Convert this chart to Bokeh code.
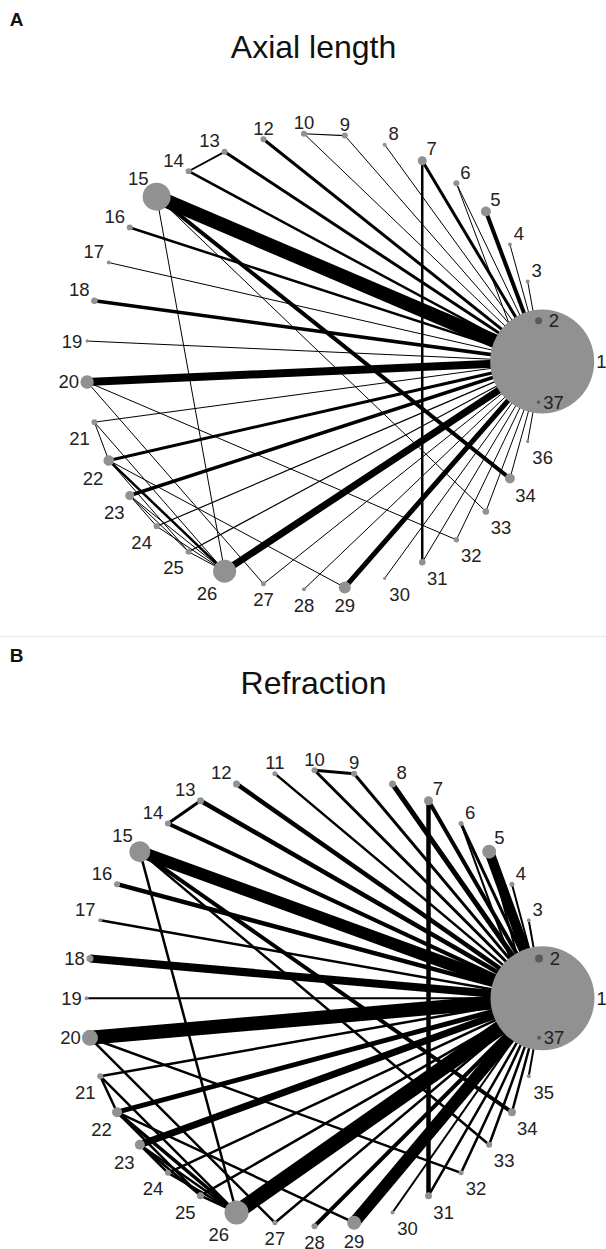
import math
from bokeh.plotting import figure
from bokeh.models import Range1d
from bokeh.embed import file_html
from bokeh.resources import INLINE
from bokeh.core.properties import value

# ---------------- data ----------------
panel_tags = ["A", "B"]
titles = ["Axial length", "Refraction"]

# Panel A: treatments present and node sizes (radius)
nodes_a = [1, 2, 3, 4, 5, 6, 7, 8, 9, 10, 12, 13, 14, 15, 16, 17, 18, 19, 20,
           21, 22, 23, 24, 25, 26, 27, 28, 29, 30, 31, 32, 33, 34, 36, 37]
size_a = [52, 3.5, 2, 2, 5, 3, 4.5, 2, 3, 3, 3, 3, 3, 14, 3, 2, 3.3, 1.7, 6.7,
          3, 5.3, 4.5, 3, 3, 11.5, 2.5, 2, 6, 1.7, 3.3, 2.7, 3.3, 5, 1.7, 1.7]
edge_a_from = [1, 1, 1, 1, 1, 1, 1, 1, 1, 1, 1, 1, 1, 1, 1, 1, 1, 1, 1, 1, 1, 1,
               1, 1, 1, 1, 1, 1, 1, 1, 1, 1,
               9, 13, 7, 15, 15, 15, 6, 20, 20, 21, 22, 21, 22, 22, 23, 23, 23, 25, 24]
edge_a_to = [3, 4, 5, 6, 7, 8, 9, 10, 12, 13, 14, 15, 16, 17, 18, 19, 20, 21, 22, 23,
             24, 25, 26, 27, 28, 29, 30, 31, 32, 33, 34, 36,
             10, 14, 31, 26, 34, 33, 37, 27, 32, 26, 29, 22, 26, 25, 26, 25, 24, 26, 26]
edge_a_w = [1, 1, 4, 1, 3, 1, 1, 1, 3, 3, 2.5, 14, 2.5, 1, 3.5, 1, 8, 1, 3, 3.5,
            1.2, 1.2, 7, 1, 1, 5, 1, 1, 1, 1, 1, 1,
            1.2, 1.8, 2.5, 1, 4, 1, 1, 1, 1, 1, 1, 1, 2.5, 1, 1, 1, 1, 1, 1]

# Panel B
nodes_b = [1, 2, 3, 4, 5, 6, 7, 8, 9, 10, 11, 12, 13, 14, 15, 16, 17, 18, 19, 20,
           21, 22, 23, 24, 25, 26, 27, 28, 29, 30, 31, 32, 33, 34, 35, 37]
size_b = [52, 4, 2, 2.5, 7, 2.5, 4.5, 3.5, 3, 3, 2.5, 3.5, 3.5, 3, 10.5, 3, 2, 3.5,
          2, 8, 3, 5, 5, 3, 3.5, 12, 2.5, 3, 7, 2, 3.5, 2.5, 3, 4, 2, 2]
edge_b_from = [1, 1, 1, 1, 1, 1, 1, 1, 1, 1, 1, 1, 1, 1, 1, 1, 1, 1, 1, 1, 1, 1,
               1, 1, 1, 1, 1, 1, 1, 1, 1, 1, 1,
               9, 13, 7, 15, 15, 15, 6, 20, 20, 21, 22, 21, 22, 22, 23, 23, 23, 25, 24, 5]
edge_b_to = [3, 4, 5, 6, 7, 8, 9, 10, 11, 12, 13, 14, 15, 16, 17, 18, 19, 20, 21, 22,
             23, 24, 25, 26, 27, 28, 29, 30, 31, 32, 33, 34, 35,
             10, 14, 31, 26, 34, 33, 37, 27, 32, 26, 29, 22, 26, 25, 26, 25, 24, 26, 26, 37]
edge_b_w = [2, 2, 10, 3, 4, 5, 3, 3, 2.5, 4.5, 4.5, 4, 12, 4.5, 2.5, 8, 2, 14, 2.5,
            5, 7, 2.5, 2.5, 15, 2.5, 4, 12, 2, 2.5, 2.5, 2.5, 2.5, 2,
            3, 3, 4.5, 2.5, 4, 2.5, 2, 2.5, 2.5, 2.5, 2.5, 2.5, 3.5, 2.5, 2.5, 2.5, 2.5,
            2.5, 2.5, 2]

# ---------------- layout (page pixel coordinates) ----------------
W, H = 606, 1249
panels = [
    dict(nodes=nodes_a, size=size_a, ef=edge_a_from, et=edge_a_to, ew=edge_a_w,
         cx=313.7, cy=361.0, R=228.0, tag_y=19, title_y=46),
    dict(nodes=nodes_b, size=size_b, ef=edge_b_from, et=edge_b_to, ew=edge_b_w,
         cx=314.0, cy=997.7, R=228.0, tag_y=655, title_y=682),
]

p = figure(width=W, height=H, x_range=Range1d(0, W), y_range=Range1d(H, 0),
           output_backend="svg", toolbar_location=None, min_border=0,
           x_axis_location=None, y_axis_location=None)
p.grid.visible = False
p.outline_line_color = None
p.background_fill_color = "white"

FONT = value("Liberation Sans")
NODE = "#919191"
DARK = "#5a5a5a"

# separator between the two panels
p.segment(x0=[0], y0=[636], x1=[W], y1=[636], line_color="#ececec", line_width=1.5)

for k, pn in enumerate(panels):
    n = len(pn["nodes"])
    pos = {}
    ang = {}
    for i, node in enumerate(pn["nodes"]):
        th = 2 * math.pi * i / n
        pos[node] = (pn["cx"] + pn["R"] * math.cos(th), pn["cy"] - pn["R"] * math.sin(th))
        ang[node] = th
    rad = dict(zip(pn["nodes"], pn["size"]))

    # edges
    x0 = [pos[a][0] for a in pn["ef"]]
    y0 = [pos[a][1] for a in pn["ef"]]
    x1 = [pos[b][0] for b in pn["et"]]
    y1 = [pos[b][1] for b in pn["et"]]
    p.segment(x0=x0, y0=y0, x1=x1, y1=y1, line_width=pn["ew"], line_color="black")

    # nodes
    hub = pn["nodes"][0]
    hx, hy = pos[hub]
    xs, ys, rs, cs = [], [], [], []
    for node in pn["nodes"]:
        x, y = pos[node]
        xs.append(x); ys.append(y); rs.append(rad[node])
        inside = node != hub and math.hypot(x - hx, y - hy) < rad[hub]
        cs.append(DARK if inside else NODE)
    p.circle(x=xs, y=ys, radius=rs, fill_color=cs, line_color=None)

    # labels
    lx, ly, lt = [], [], []
    for node in pn["nodes"]:
        x, y = pos[node]
        c, s = math.cos(ang[node]), math.sin(ang[node])
        extra = max(rad[node] - 3, 0)
        if abs(s) <= 0.2:
            dx = math.copysign(15 + 0.9 * extra, c)
            dy = 0
        else:
            dy = (-11 if s > 0 else 16) + math.copysign(0.7 * extra, -s)
            if abs(c) < 0.25:
                dx = 0
            elif c > 0 and s > 0:
                dx = 9 + 0.3 * extra
            else:
                dx = math.copysign(15 + 0.3 * extra, c)
        lx.append(x + dx); ly.append(y + dy); lt.append(str(node))
    p.text(x=lx, y=ly, text=lt, text_font=FONT, text_font_size="18.5px",
           text_align="center", text_baseline="middle", text_color="#222222")

    # title and panel tag
    p.text(x=[313], y=[pn["title_y"]], text=[titles[k]], text_font=FONT,
           text_font_size="32px", text_align="center", text_baseline="middle",
           text_color="#111111")
    p.text(x=[16], y=[pn["tag_y"]], text=[panel_tags[k]], text_font=FONT,
           text_font_size="19px", text_font_style="bold", text_align="center",
           text_baseline="middle", text_color="#111111")

open("out.html", "w").write(file_html(p, INLINE))
